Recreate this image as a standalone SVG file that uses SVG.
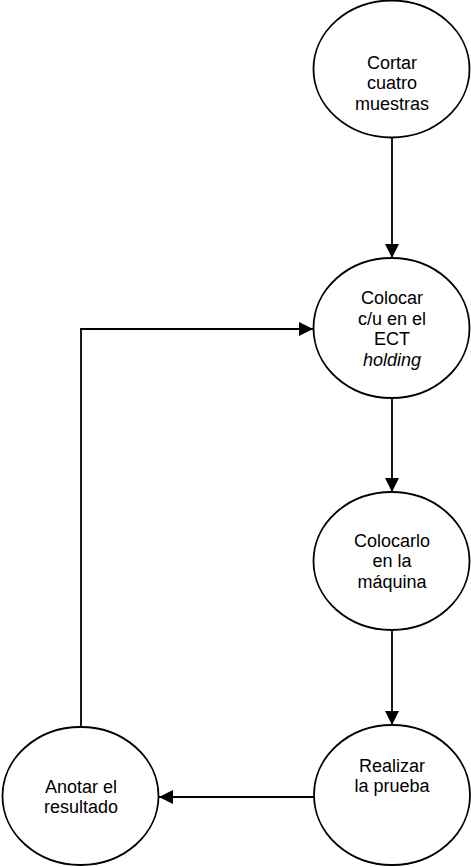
<svg xmlns="http://www.w3.org/2000/svg" width="471" height="867" viewBox="0 0 471 867">
<style>
.n ellipse{fill:#fff;stroke:#000;stroke-width:1.8}
.n text{font-family:"Liberation Sans",Arial,sans-serif;font-size:18px;fill:#000;text-anchor:middle}
.c path{fill:none;stroke:#000;stroke-width:1.8}
</style>
<defs>
<marker id="ah" markerWidth="14" markerHeight="14" viewBox="0 0 14 14" refX="14" refY="7" orient="auto" markerUnits="userSpaceOnUse">
<path d="M0,0 L14,7 L0,14 Z" fill="#000"/>
</marker>
</defs>
<g id="connectors" class="c">
<path d="M392,138 L392,258" marker-end="url(#ah)"/>
<path d="M392,398 L392,492" marker-end="url(#ah)"/>
<path d="M392,630 L392,725" marker-end="url(#ah)"/>
<path d="M314,797 L159,797" marker-end="url(#ah)"/>
<path d="M81,727 L81,329 L313,329" marker-end="url(#ah)"/>
</g>
<g id="n1" class="n">
<ellipse cx="391.5" cy="69" rx="78" ry="68.5"/>
<text x="392" y="68.5">Cortar</text>
<text x="392" y="89.3">cuatro</text>
<text x="392" y="110">muestras</text>
</g>
<g id="n2" class="n">
<ellipse cx="391.5" cy="328" rx="78" ry="70"/>
<text x="392" y="304">Colocar</text>
<text x="392" y="324.7">c/u en el</text>
<text x="392" y="345.4">ECT</text>
<text x="392" y="366" font-style="italic">holding</text>
</g>
<g id="n3" class="n">
<ellipse cx="391.5" cy="561" rx="78" ry="69"/>
<text x="392" y="546.7">Colocarlo</text>
<text x="392" y="567.4">en la</text>
<text x="392" y="588">máquina</text>
</g>
<g id="n4" class="n">
<ellipse cx="392" cy="795" rx="78" ry="70"/>
<text x="392" y="771.7">Realizar</text>
<text x="392" y="792.4">la prueba</text>
</g>
<g id="n5" class="n">
<ellipse cx="80.5" cy="796" rx="78" ry="69"/>
<text x="81" y="792.7">Anotar el</text>
<text x="81" y="813.4">resultado</text>
</g>
</svg>
